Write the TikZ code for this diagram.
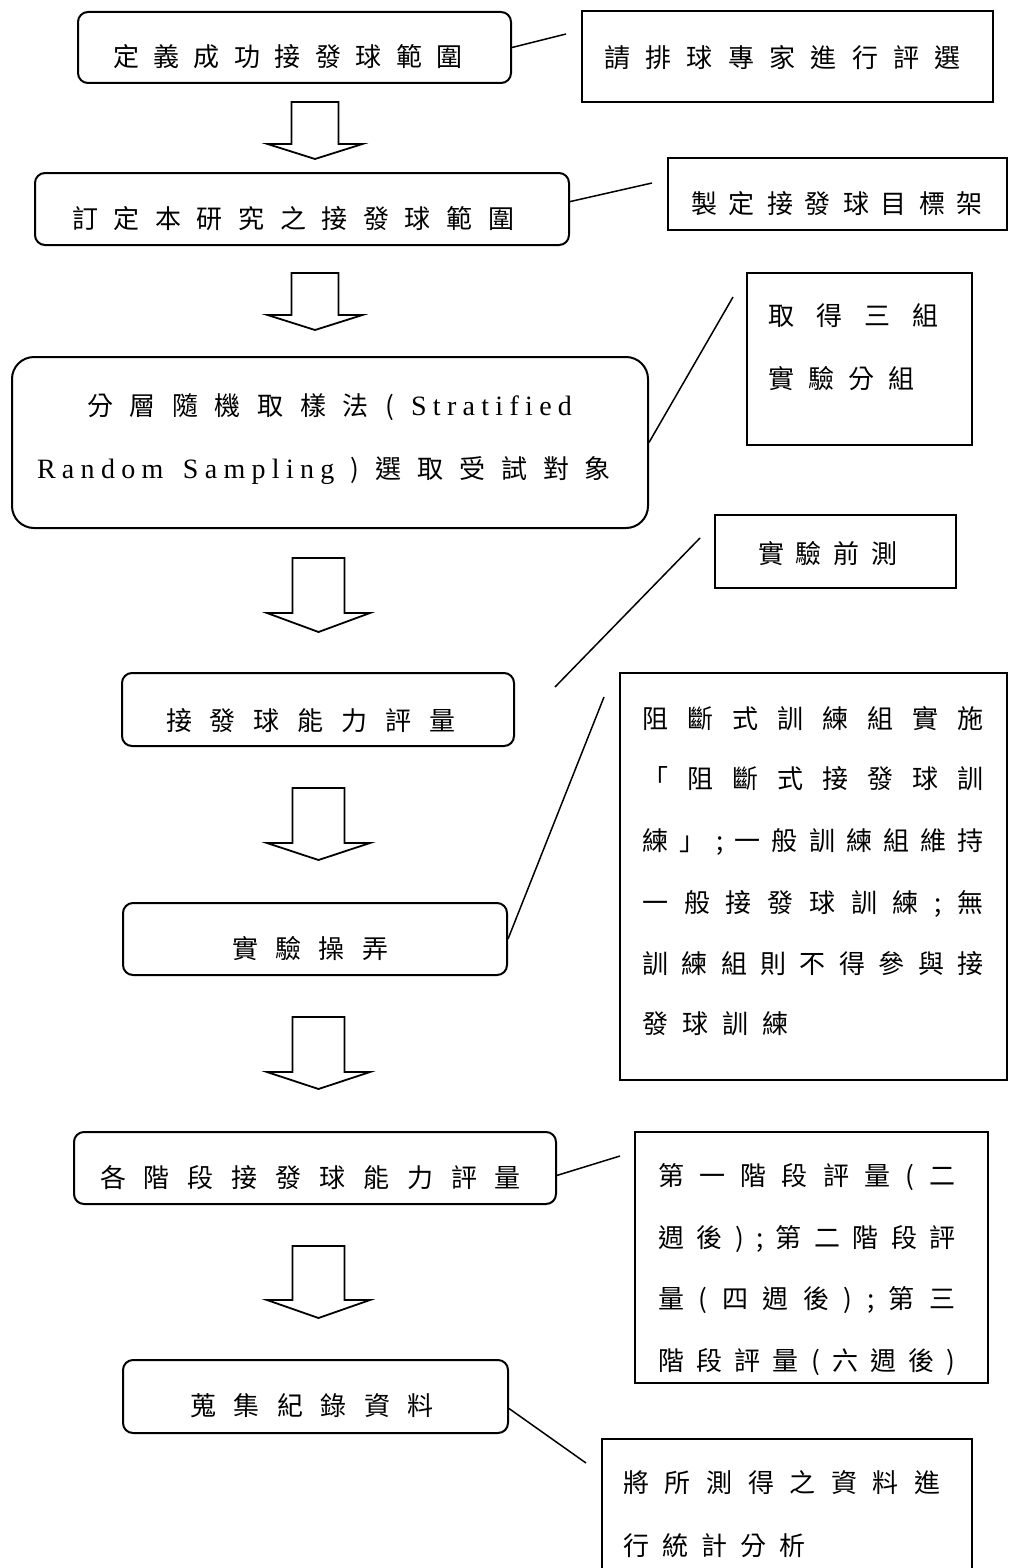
\documentclass[tikz,border=0pt]{standalone}
\usepackage{fontspec}
\newfontfamily\cjk{Noto Sans CJK TC}
\newfontfamily\latin{Liberation Serif}
\usetikzlibrary{calc}
\newdimen\pxu \pxu=0.5pt
% spread characters with \hfill between them
\def\sjend{}
\def\sj#1{\sjfirst#1\sjend}
\def\sjfirst#1{#1\sjloop}
\def\sjloop#1{\ifx#1\sjend\else\hfill#1\expandafter\sjloop\fi}
% spread characters with a fixed kern between them
\newcommand\sk[2]{\def\skgap{#1}\skfirst#2\sjend}
\def\skfirst#1{#1\skloop}
\def\skloop#1{\ifx#1\sjend\else\kern\skgap\relax#1\expandafter\skloop\fi}
\newcommand\jl[2]{\makebox[#1\pxu][s]{\sj{#2}}}
\newcommand\lat{\latin\fontsize{14}{16}\selectfont}
\newcommand\barrow[6]{%
  \draw[arrowline] (#1-#5,#2) -- (#1+#5,#2) -- (#1+#5,#3) -- (#1+#6,#3)
    -- (#1,#4) -- (#1-#6,#3) -- (#1-#5,#3) -- cycle;}
\begin{document}
\begin{tikzpicture}[x=0.5pt,y=-0.5pt,
  rbox/.style={draw, line width=1pt, rounded corners=5pt, inner sep=0pt},
  sbox/.style={draw, line width=1pt, inner sep=0pt},
  conn/.style={line width=0.75pt},
  arrowline/.style={draw, line width=0.9pt, line join=miter, fill=white},
  txt/.style={inner sep=0pt, anchor=base, font=\cjk\fontsize{13}{15}\selectfont},
  txtl/.style={txt, anchor=base west}]
\useasboundingbox (0,0) rectangle (1008,1568);

% main rounded boxes
\node[rbox, minimum width=433\pxu, minimum height=71\pxu] (boxA) at (294.5,47.5) {};
\node[rbox, minimum width=534\pxu, minimum height=72\pxu] (boxB) at (302,209) {};
\node[rbox, rounded corners=11pt, minimum width=636\pxu, minimum height=171\pxu] (boxC) at (330,442.5) {};
\node[rbox, minimum width=392\pxu, minimum height=73\pxu] (boxD) at (318,709.5) {};
\node[rbox, minimum width=384\pxu, minimum height=72\pxu] (boxE) at (315,939) {};
\node[rbox, minimum width=482\pxu, minimum height=72\pxu] (boxF) at (315,1168) {};
\node[rbox, minimum width=385\pxu, minimum height=73\pxu] (boxG) at (315.5,1396.5) {};

% side boxes
\node[sbox, minimum width=411\pxu, minimum height=91\pxu] (sA) at (787.5,56.5) {};
\node[sbox, minimum width=339\pxu, minimum height=72\pxu] (sB) at (837.5,194) {};
\node[sbox, minimum width=225\pxu, minimum height=172\pxu] (sC) at (859.5,359) {};
\node[sbox, minimum width=241\pxu, minimum height=73\pxu] (sD) at (835.5,551.5) {};
\node[sbox, minimum width=387\pxu, minimum height=407\pxu] (sE) at (813.5,876.5) {};
\node[sbox, minimum width=353\pxu, minimum height=251\pxu] (sF) at (811.5,1257.5) {};
\node[sbox, minimum width=370\pxu, minimum height=141\pxu] (sG) at (787,1509.5) {};

% block arrows
\barrow{315}{102}{144}{159}{23.5}{47.5}
\barrow{315}{273}{315}{330}{23.5}{47.5}
\barrow{318.5}{558}{613}{632}{26}{51.5}
\barrow{318.5}{788}{843}{860}{26}{51.5}
\barrow{318.5}{1017}{1072}{1089}{26}{51.5}
\barrow{318.5}{1246}{1300}{1318}{26}{51.5}

% texts in main boxes
\node[txt] (tA) at (288,67) {\jl{350}{定義成功接發球範圍}};
\node[txt] (tB) at (293,228) {\jl{442}{訂定本研究之接發球範圍}};
\node[txt] (tC1) at (329.5,415) {\makebox[485\pxu][s]{\sj{分層隨機取樣法(}\hfill{\lat\sk{3.15pt}{Stratified}}}};
\node[txt] (tC2) at (324,478) {\makebox[574\pxu][s]{{\lat\sk{3.15pt}{Random~Sampling}}\hfill\sj{)選取受試對象}}};
\node[txt] (tD) at (311,730) {\jl{290}{接發球能力評量}};
\node[txt] (tE) at (310,958) {\jl{156}{實驗操弄}};
\node[txt] (tF) at (310.5,1187) {\jl{421}{各階段接發球能力評量}};
\node[txt] (tG) at (312,1415) {\jl{244}{蒐集紀錄資料}};

% texts in side boxes
\node[txt] (tsA) at (782.5,68) {\jl{357}{請排球專家進行評選}};
\node[txt] (tsB) at (837,213) {\jl{292}{製定接發球目標架}};
\node[txtl] (tsC1) at (768,325) {\jl{170}{取得三組}};
\node[txtl] (tsC2) at (768,388) {\sk{7pt}{實驗分組}};
\node[txt] (tsD) at (827.5,563) {\jl{139}{實驗前測}};
\node[txtl] (tsE1) at (642,728) {\jl{341}{阻斷式訓練組實施}};
\node[txtl] (tsE2) at (642,788) {\jl{341}{「阻斷式接發球訓}};
\node[txtl] (tsE3) at (642,850) {\jl{341}{練」;一般訓練組維持}};
\node[txtl] (tsE4) at (642,912) {\jl{341}{一般接發球訓練;無}};
\node[txtl] (tsE5) at (642,973) {\jl{341}{訓練組則不得參與接}};
\node[txtl] (tsE6) at (642,1033) {\sk{7pt}{發球訓練}};
\node[txtl] (tsF1) at (658,1185) {\jl{297}{第一階段評量(二}};
\node[txtl] (tsF2) at (658,1247) {\jl{297}{週後);第二階段評}};
\node[txtl] (tsF3) at (658,1308) {\jl{297}{量(四週後);第三}};
\node[txtl] (tsF4) at (658,1370) {\jl{297}{階段評量(六週後)}};
\node[txtl] (tsG1) at (623,1492) {\jl{317}{將所測得之資料進}};
\node[txtl] (tsG2) at (623,1555) {\sk{6.5pt}{行統計分析}};

% connector lines
\coordinate (lA) at (566,34);
\coordinate (lB) at (652,183);
\coordinate (lC) at (733,297);
\coordinate (lD1) at (555,687);
\coordinate (lD2) at (700,538);
\coordinate (lE) at (604,697);
\coordinate (lF) at (620,1156);
\coordinate (lG) at (586,1463);
\draw[conn] (boxA.east) -- (lA);
\draw[conn] ($(boxB.north east)!0.4!(boxB.south east)$) -- (lB);
\draw[conn] (boxC.east) -- (lC);
\draw[conn] (lD1) -- (lD2);
\draw[conn] (boxE.east) -- (lE);
\draw[conn] ($(boxF.north east)!0.6!(boxF.south east)$) -- (lF);
\draw[conn] ($(boxG.north east)!0.66!(boxG.south east)$) -- (lG);
\end{tikzpicture}
\end{document}
